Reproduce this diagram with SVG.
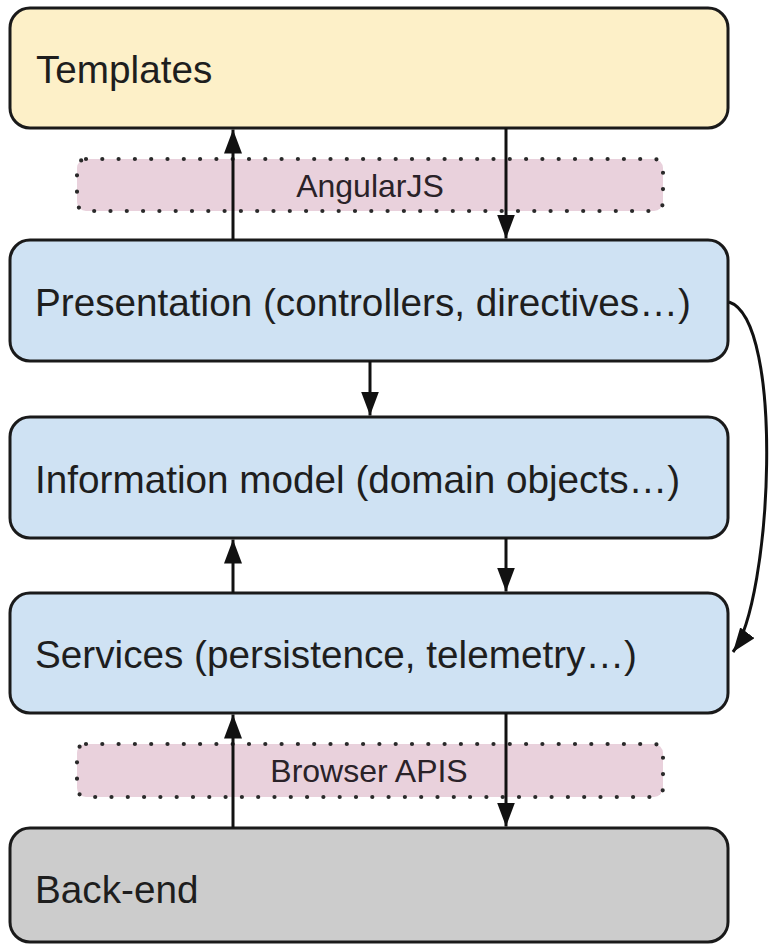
<svg xmlns="http://www.w3.org/2000/svg" width="770" height="944" viewBox="0 0 770 944">
  <style>
    .box { stroke: #1a1a1a; stroke-width: 3; }
    .yellow { fill: #fdf0c8; }
    .blue { fill: #cfe2f3; }
    .gray { fill: #cccccc; }
    .dotted { fill: #e9d1dc; stroke: #2a2a2a; stroke-width: 4.2; stroke-dasharray: 0 16.3; stroke-linecap: round; }
    .label { font-family: "Liberation Sans", Arial, sans-serif; font-size: 38.7px; fill: #1e1e1e; }
    .small { font-family: "Liberation Sans", Arial, sans-serif; font-size: 32px; fill: #2a2228; text-anchor: middle; }
    .conn { fill: none; stroke: #111; stroke-width: 3; }
  </style>
  <defs>
    <marker id="arrow" markerUnits="userSpaceOnUse" markerWidth="24" markerHeight="18" refX="24" refY="9" orient="auto">
      <path d="M0,0 L24,9 L0,18 z" fill="#111"/>
    </marker>
  </defs>
  <rect width="770" height="944" fill="#ffffff"/>

  <g id="angularjs">
    <rect class="dotted" x="77" y="159" width="586" height="52" rx="9"/>
    <text class="small" x="370" y="197">AngularJS</text>
  </g>
  <g id="browser-apis">
    <rect class="dotted" x="77" y="744" width="586" height="53" rx="9"/>
    <text class="small" x="369" y="782">Browser APIS</text>
  </g>

  <g id="templates">
    <rect class="box yellow" x="10" y="8" width="718" height="120" rx="20"/>
    <text class="label" x="36" y="83">Templates</text>
  </g>
  <g id="presentation">
    <rect class="box blue" x="10" y="240" width="718" height="121" rx="20"/>
    <text class="label" x="35" y="316">Presentation (controllers, directives…)</text>
  </g>
  <g id="information-model">
    <rect class="box blue" x="10" y="417" width="718" height="121" rx="20"/>
    <text class="label" x="35" y="493">Information model (domain objects…)</text>
  </g>
  <g id="services">
    <rect class="box blue" x="10" y="593" width="718" height="120" rx="20"/>
    <text class="label" x="35" y="668">Services (persistence, telemetry…)</text>
  </g>
  <g id="back-end">
    <rect class="box gray" x="10" y="828" width="718" height="114" rx="20"/>
    <text class="label" x="35" y="903">Back-end</text>
  </g>

  <g id="connectors">
    <line class="conn" x1="233" y1="240" x2="233" y2="129.5" marker-end="url(#arrow)"/>
    <line class="conn" x1="506" y1="128" x2="506" y2="238.5" marker-end="url(#arrow)"/>
    <line class="conn" x1="370" y1="361" x2="370" y2="415.5" marker-end="url(#arrow)"/>
    <line class="conn" x1="233" y1="593" x2="233" y2="539.5" marker-end="url(#arrow)"/>
    <line class="conn" x1="506" y1="538" x2="506" y2="591.5" marker-end="url(#arrow)"/>
    <line class="conn" x1="233" y1="828" x2="233" y2="714.5" marker-end="url(#arrow)"/>
    <line class="conn" x1="506" y1="713" x2="506" y2="826.5" marker-end="url(#arrow)"/>
    <path class="conn" d="M 729 302 C 785 320, 772 600, 733 652" marker-end="url(#arrow)"/>
  </g>
</svg>
